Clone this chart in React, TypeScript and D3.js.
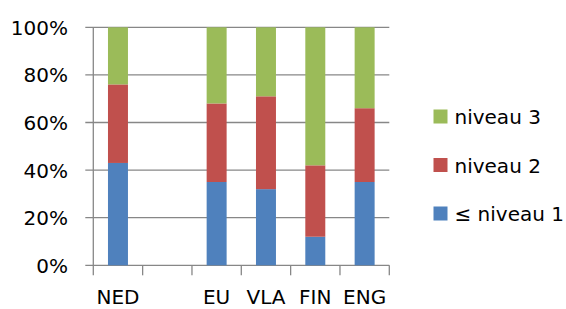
import React, { useEffect, useRef } from 'react';
import * as d3 from 'd3';

const categories = ['NED', '', 'EU', 'VLA', 'FIN', 'ENG'];
const niveau1 = [43, null, 35, 32, 12, 35];
const niveau2 = [33, null, 33, 39, 30, 31];
const niveau3 = [24, null, 32, 29, 58, 34];
const seriesNames = ['≤ niveau 1', 'niveau 2', 'niveau 3'];
const seriesColors = ['#4F81BD', '#C0504D', '#9BBB59'];
const yTicks = [0, 20, 40, 60, 80, 100];

export default function App() {
  const ref = useRef<SVGSVGElement>(null);

  useEffect(() => {
    const svg = d3.select(ref.current);
    svg.selectAll('*').remove();

    const font = '"DejaVu Sans", sans-serif';
    const left = 93.3;
    const right = 389.3;
    const top = 27.3;
    const bottom = 265.3;

    const x = d3.scaleBand().domain(categories).range([left, right]).paddingInner(0.595).paddingOuter(0.2975);
    const y = d3.scaleLinear().domain([0, 100]).range([bottom, top]);

    const rows = categories.map((c, i) => ({
      cat: c,
      s0: niveau1[i],
      s1: niveau2[i],
      s2: niveau3[i],
    })).filter((d) => d.s0 !== null);

    const stacked = d3.stack<any>().keys(['s0', 's1', 's2'])(rows);

    // gridlines
    svg
      .append('g')
      .selectAll('line')
      .data(yTicks)
      .enter()
      .append('line')
      .attr('x1', left - 8)
      .attr('x2', right)
      .attr('y1', (d) => y(d))
      .attr('y2', (d) => y(d))
      .style('stroke', '#878787')
      .style('stroke-width', 1.3);

    // y axis line
    svg
      .append('line')
      .attr('x1', left)
      .attr('x2', left)
      .attr('y1', top)
      .attr('y2', bottom)
      .style('stroke', '#878787')
      .style('stroke-width', 1.3);

    // x tick marks at band boundaries
    const step = x.step();
    const bounds = d3.range(categories.length + 1).map((i) => left + i * step);
    svg
      .append('g')
      .selectAll('line')
      .data(bounds)
      .enter()
      .append('line')
      .attr('x1', (d) => d)
      .attr('x2', (d) => d)
      .attr('y1', bottom)
      .attr('y2', bottom + 10)
      .style('stroke', '#878787')
      .style('stroke-width', 1.3);

    // bars
    svg
      .append('g')
      .selectAll('g')
      .data(stacked)
      .enter()
      .append('g')
      .style('fill', (d, i) => seriesColors[i])
      .selectAll('rect')
      .data((d) => d)
      .enter()
      .append('rect')
      .attr('x', (d: any) => x(d.data.cat) as number)
      .attr('width', x.bandwidth())
      .attr('y', (d) => y(d[1]))
      .attr('height', (d) => y(d[0]) - y(d[1]));

    // y labels
    svg
      .append('g')
      .selectAll('text')
      .data(yTicks)
      .enter()
      .append('text')
      .attr('x', 68)
      .attr('y', (d) => y(d) + 7.5)
      .style('text-anchor', 'end')
      .style('font-family', font)
      .style('font-size', '20px')
      .style('fill', '#000')
      .text((d) => d + '%');

    // x labels
    svg
      .append('g')
      .selectAll('text')
      .data(categories)
      .enter()
      .append('text')
      .attr('x', (d) => (x(d) as number) + x.bandwidth() / 2)
      .attr('y', 304)
      .style('text-anchor', 'middle')
      .style('font-family', font)
      .style('font-size', '20px')
      .style('fill', '#000')
      .text((d) => d);

    // legend (top to bottom: niveau 3, 2, 1)
    const legendOrder = [2, 1, 0];
    const legend = svg
      .append('g')
      .selectAll('g')
      .data(legendOrder)
      .enter()
      .append('g')
      .attr('transform', (d, i) => 'translate(433.5,' + (109.5 + i * 48.5) + ')');

    legend
      .append('rect')
      .attr('width', 14)
      .attr('height', 14)
      .style('fill', (d) => seriesColors[d]);

    legend
      .append('text')
      .attr('x', 21)
      .attr('y', 14.5)
      .style('font-family', font)
      .style('font-size', '20px')
      .style('fill', '#000')
      .text((d) => seriesNames[d]);
  }, []);

  return (
    <svg
      ref={ref}
      width={566}
      height={309}
      style={{ position: 'absolute', left: 0, top: 0, background: '#fff' }}
    />
  );
}
